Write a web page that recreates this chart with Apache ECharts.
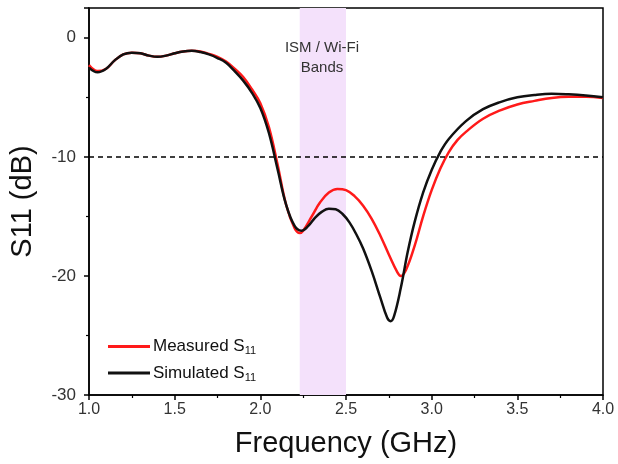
<!DOCTYPE html>
<html><head><meta charset="utf-8">
<script src="https://cdn.jsdelivr.net/npm/echarts@6/dist/echarts.min.js"></script>
<style>html,body{margin:0;padding:0;background:#fff}#c{width:618px;height:464px}</style>
</head><body><div id="c"></div>
<script>
const measuredFreq = [1.00,1.05,1.10,1.15,1.20,1.25,1.30,1.35,1.40,1.45,1.50,1.55,1.60,1.65,1.70,1.75,1.80,1.85,1.90,1.95,2.00,2.05,2.10,2.15,2.20,2.23,2.25,2.30,2.35,2.40,2.45,2.50,2.55,2.60,2.65,2.70,2.75,2.80,2.82,2.85,2.90,2.95,3.00,3.05,3.10,3.15,3.20,3.30,3.40,3.50,3.60,3.70,3.80,3.90,4.00];
const measuredS11 = [-2.3,-2.8,-2.6,-1.9,-1.4,-1.25,-1.3,-1.5,-1.6,-1.5,-1.3,-1.15,-1.1,-1.15,-1.35,-1.6,-2.0,-2.6,-3.3,-4.3,-5.5,-7.5,-10.6,-14.0,-16.0,-16.4,-16.2,-15.0,-13.8,-13.0,-12.7,-12.8,-13.3,-14.1,-15.2,-16.6,-18.2,-19.7,-20.0,-19.5,-17.5,-15.0,-12.8,-11.0,-9.6,-8.6,-7.9,-6.8,-6.1,-5.6,-5.3,-5.05,-4.95,-4.95,-5.05];
const simFreq = [1.00,1.05,1.10,1.15,1.20,1.25,1.30,1.35,1.40,1.45,1.50,1.55,1.60,1.65,1.70,1.75,1.80,1.85,1.90,1.95,2.00,2.05,2.10,2.15,2.20,2.24,2.28,2.32,2.36,2.40,2.44,2.48,2.52,2.56,2.60,2.65,2.70,2.74,2.76,2.78,2.82,2.86,2.90,2.95,3.00,3.05,3.10,3.20,3.30,3.40,3.50,3.60,3.70,3.80,3.90,4.00];
const simS11 = [-2.5,-2.9,-2.6,-1.9,-1.4,-1.25,-1.3,-1.5,-1.6,-1.5,-1.3,-1.15,-1.1,-1.2,-1.4,-1.7,-2.1,-2.8,-3.6,-4.6,-5.9,-8.0,-11.0,-14.0,-15.8,-16.2,-15.8,-15.1,-14.6,-14.35,-14.4,-14.8,-15.5,-16.5,-17.7,-19.6,-21.8,-23.5,-23.8,-23.4,-21.0,-18.0,-15.5,-13.0,-11.1,-9.6,-8.5,-7.0,-6.0,-5.4,-5.0,-4.8,-4.7,-4.75,-4.85,-5.0];
const bandRange = [2.23, 2.5];
const thresholdDb = -10;
const xTicks = ['1.0','1.5','2.0','2.5','3.0','3.5','4.0'];
const yTicks = ['-30','-20','-10','0'];

const zip = (a,b)=>a.map((v,i)=>[v,b[i]]);
const chart = echarts.init(document.getElementById('c'));
const F = 'Liberation Sans, Arial, sans-serif';
chart.setOption({
  animation:false,
  grid:{left:87,right:15,top:8,bottom:69,show:true,borderColor:'#000',borderWidth:1.5},
  xAxis:{type:'value',min:1,max:4,interval:0.5,
    name:'Frequency (GHz)',nameLocation:'middle',nameGap:34,
    nameTextStyle:{fontFamily:F,fontSize:29,color:'#111'},
    axisLine:{show:true,onZero:false,lineStyle:{color:'#000',width:1.5}},
    axisTick:{show:true,inside:false,length:5,lineStyle:{color:'#000',width:1.5}},
    minorTick:{show:true,splitNumber:2,length:3,lineStyle:{color:'#000',width:1.2}},
    splitLine:{show:false},
    axisLabel:{fontFamily:F,fontSize:16,color:'#333',margin:7,formatter:v=>xTicks.find(t=>Math.abs(parseFloat(t)-v)<1e-6)||''}
  },
  yAxis:{type:'value',min:-30,max:2.5,interval:10,
    name:'S11 (dB)',nameLocation:'middle',nameGap:52,
    nameTextStyle:{fontFamily:F,fontSize:29,color:'#111'},
    axisLine:{show:true,onZero:false,lineStyle:{color:'#000',width:1.5}},
    axisTick:{show:true,inside:false,length:5,lineStyle:{color:'#000',width:1.5}},
    minorTick:{show:true,splitNumber:2,length:3,lineStyle:{color:'#000',width:1.2}},
    splitLine:{show:false},
    axisLabel:{fontFamily:F,fontSize:17,color:'#333',margin:13,showMaxLabel:false,formatter:v=>yTicks.find(t=>Math.abs(parseFloat(t)-v)<1e-6)||''}
  },
  legend:{orient:'vertical',left:103,top:333,itemWidth:42,itemHeight:3,itemGap:8,
    icon:'rect',
    textStyle:{fontFamily:F,fontSize:17,color:'#111',padding:[0,0,0,-2],
      rich:{a:{fontFamily:F,fontSize:17,color:'#111'},b:{fontFamily:F,fontSize:11,color:'#111',padding:[9,0,0,0]}}},
    formatter:n=>n==='Measured'?'{a|Measured S}{b|11}':'{a|Simulated S}{b|11}',
    data:['Measured','Simulated']
  },
  series:[
    {name:'Simulated',type:'line',data:zip(simFreq,simS11),smooth:0.4,symbol:'none',
      lineStyle:{color:'#111',width:2.5},itemStyle:{color:'#111'},z:3,
      markArea:{silent:true,itemStyle:{color:'#f4e1fb'},data:[[{xAxis:bandRange[0]},{xAxis:bandRange[1]}]]},
      markLine:{silent:true,symbol:'none',label:{show:false},lineStyle:{color:'#000',type:[5,4],width:1.5},data:[{yAxis:thresholdDb}]}
    },
    {name:'Measured',type:'line',data:zip(measuredFreq,measuredS11),smooth:0.4,symbol:'none',
      lineStyle:{color:'#ff1a1a',width:2.5},itemStyle:{color:'#ff1a1a'},z:2}
  ],
  graphic:[
    {type:'text',x:322,y:48,z:100,style:{text:'ISM / Wi-Fi',textAlign:'center',textVerticalAlign:'middle',fontFamily:F,fontSize:15,fill:'#333'}},
    {type:'text',x:322,y:68,z:100,style:{text:'Bands',textAlign:'center',textVerticalAlign:'middle',fontFamily:F,fontSize:15,fill:'#333'}}
  ]
});
</script></body></html>
